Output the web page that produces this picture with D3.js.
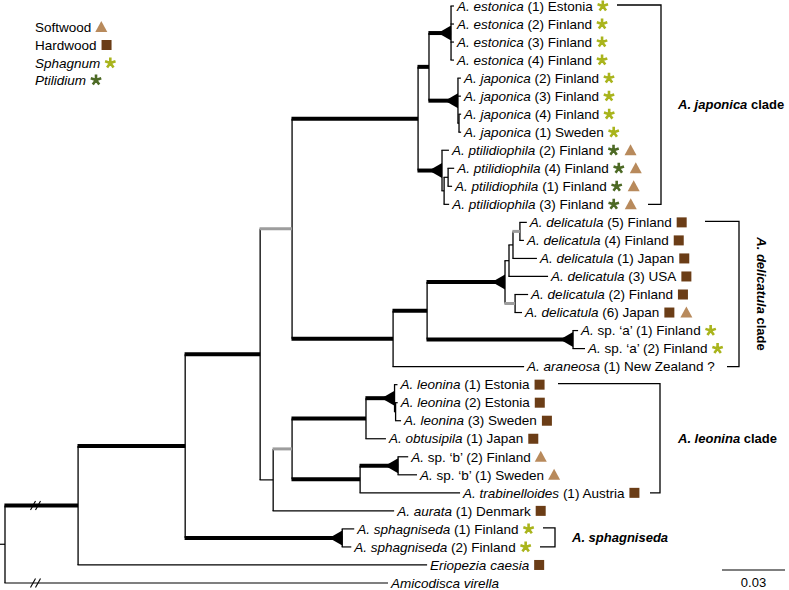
<!DOCTYPE html>
<html><head><meta charset="utf-8">
<script src="https://cdn.jsdelivr.net/npm/d3@7"></script>
<style>
body{margin:0;background:#fff}
svg{display:block}
text{font-family:"Liberation Sans",Arial,Helvetica,sans-serif;white-space:pre}
</style>
</head><body>
<svg id="chart" width="789" height="590"></svg>
<script>
// ---------------- DATA ----------------
// Tree topology with branch lengths (substitutions/site). Leaves are numbered 1..33 top to bottom.
// Internal labels: t = thick (supported), T = thick + collapsed-clade triangle, g = grey (weakly supported)
const cladeEstonica = "(1:0.0014,2:0.0014,3:0.0014,4:0.0014)T";
const cladeJaponica = "(5:0.0014,6:0.0014,(7:0.0010,8:0.0010):0.0005)T";
const cladePtil = "(9:0.0033,((10:0.0029,11:0.0019):0.0019,12:0.0024):0.0010)T";
const cladeJC = `((${cladeEstonica}:0.0105,${cladeJaponica}:0.0138)t:0.0052,${cladePtil}:0.0114)t`;
const cladeDelicatula = "((((13:0.0033,14:0.0019)g:0.0033,15:0.0114):0.0019,16:0.0186):0.0019,(17:0.0062,18:0.0033)g:0.0048)T";
const cladeSpA = "(19:0.0024,20:0.0057)T";
const cladeDG = `((${cladeDelicatula}:0.0371,${cladeSpA}:0.0695)t:0.0162,21:0.0624)t`;
const cladeLeonina = "(22:0.0014,(23:0.0010,24:0.0026):0.0005)T";
const cladeSpB = "(26:0.0048,27:0.0090)T";
const cladeF = `((${cladeLeonina}:0.0136,25:0.0095)t:0.0352,(${cladeSpB}:0.0181,28:0.0476)t:0.0324)g`;
const cladeSphag = "(30:0.0057,31:0.0043)T";
const newick = `(((((${cladeJC}:0.0600,${cladeDG}:0.0481)g:0.0152,(${cladeF}:0.0090,29:0.0576):0.0062)t:0.0357,${cladeSphag}:0.0748)t:0.0510,32:0.1662)t:0.0348,33:0.1824);`;

const leafTaxa = [
  "A. estonica","A. estonica","A. estonica","A. estonica",
  "A. japonica","A. japonica","A. japonica","A. japonica",
  "A. ptilidiophila","A. ptilidiophila","A. ptilidiophila","A. ptilidiophila",
  "A. delicatula","A. delicatula","A. delicatula","A. delicatula","A. delicatula","A. delicatula",
  "A.","A.","A. araneosa",
  "A. leonina","A. leonina","A. leonina","A. obtusipila",
  "A.","A.","A. trabinelloides","A. aurata",
  "A. sphagniseda","A. sphagniseda","Eriopezia caesia","Amicodisca virella"
];
const leafDetails = [
  " (1) Estonia"," (2) Finland"," (3) Finland"," (4) Finland",
  " (2) Finland"," (3) Finland"," (4) Finland"," (1) Sweden",
  " (2) Finland"," (4) Finland"," (1) Finland"," (3) Finland",
  " (5) Finland"," (4) Finland"," (1) Japan"," (3) USA"," (2) Finland"," (6) Japan",
  " sp. \u2018a\u2019 (1) Finland"," sp. \u2018a\u2019 (2) Finland"," (1) New Zealand ?",
  " (1) Estonia"," (2) Estonia"," (3) Sweden"," (1) Japan",
  " sp. \u2018b\u2019 (2) Finland"," sp. \u2018b\u2019 (1) Sweden"," (1) Austria"," (1) Denmark",
  " (1) Finland"," (2) Finland","",""
];
// S = Softwood, H = Hardwood, Sp = Sphagnum, P = Ptilidium
const leafHosts = [
  ["Sp"],["Sp"],["Sp"],["Sp"],
  ["Sp"],["Sp"],["Sp"],["Sp"],
  ["P","S"],["P","S"],["P","S"],["P","S"],
  ["H"],["H"],["H"],["H"],["H"],["H","S"],
  ["Sp"],["Sp"],[],
  ["H"],["H"],["H"],["H"],
  ["S"],["S"],["H"],["H"],
  ["Sp"],["Sp"],["H"],[]
];
const legendKeys = ["S","H","Sp","P"];
const legendLabels = ["Softwood","Hardwood","Sphagnum","Ptilidium"];
const legendItalic = [false,false,true,true];
const cladeNames = ["A. japonica","A. delicatula","A. leonina","A. sphagniseda"];
const cladeSuffix = [" clade"," clade"," clade",""];
const cladeFirstLeaf = [0,12,21,29];
const cladeLastLeaf = [11,20,27,30];
const scaleBarValue = 0.03;

const hostColors = {S:"#b88a5c", H:"#6b3d16", Sp:"#a9b41c", P:"#4d6a25"};

// ---------------- PARSE ----------------
function parseNewick(s){
  let i=0;
  function node(){
    const n={children:[]};
    if(s[i]==='('){
      i++; n.children.push(node());
      while(s[i]===','){i++; n.children.push(node());}
      i++;
    }
    let name=''; while(i<s.length && !':,();'.includes(s[i])) name+=s[i++];
    n.name=name;
    n.length=0;
    if(s[i]===':'){i++; let l=''; while(i<s.length && !',();'.includes(s[i])) l+=s[i++]; n.length=+l;}
    if(!n.children.length) delete n.children;
    return n;
  }
  return node();
}

const root = d3.hierarchy(parseNewick(newick));
root.eachBefore(d=>{ d.dist = d.parent ? d.parent.dist + d.data.length : 0; });

const xScale = d3.scaleLinear().domain([0, scaleBarValue]).range([5, 68]);
const yScale = d3.scaleLinear().domain([0, 32]).range([6, 583]);

root.leaves().forEach(l=>{ l.idx = +l.data.name - 1; l.py = yScale(l.idx); });
root.eachAfter(d=>{ if(d.children){ d.py=(d.children[0].py + d.children[d.children.length-1].py)/2; } });
root.each(d=>{ d.px = xScale(d.dist); });

const svg = d3.select("#chart");
const g = svg.append("g");

// root stub
g.append("line").attr("x1",0).attr("x2",root.px).attr("y1",root.py).attr("y2",root.py)
  .attr("stroke","#000").attr("stroke-width",1.2);

// verticals
root.descendants().filter(d=>d.children).forEach(d=>{
  g.append("line").attr("x1",d.px).attr("x2",d.px)
   .attr("y1",d.children[0].py).attr("y2",d.children[d.children.length-1].py)
   .attr("stroke","#000").attr("stroke-width",1.3);
});

// horizontals
root.descendants().filter(d=>d.parent).forEach(d=>{
  const tag = d.children ? d.data.name : "";
  let color="#000", w=1.2;
  if(tag==="t"||tag==="T"){ w=4; }
  else if(tag==="g"){ color="#9d9d9d"; w=3; }
  g.append("line").attr("x1",d.parent.px-0.6).attr("x2",d.px).attr("y1",d.py).attr("y2",d.py)
   .attr("stroke",color).attr("stroke-width",w);
});

// triangles
root.descendants().filter(d=>d.children && d.data.name==="T").forEach(d=>{
  g.append("path").attr("d",`M${d.px},${d.py-7.5}L${d.px},${d.py+7.5}L${d.px-13},${d.py}Z`).attr("fill","#000");
});

// break marks on the two root branches
const rootBranchYs = root.children.map(c=>c.py);
rootBranchYs.forEach(y=>{
  [33,38].forEach(x=>{
    g.append("line").attr("x1",x-2.5).attr("y1",y+4.5).attr("x2",x+2.5).attr("y2",y-4.5)
     .attr("stroke","#000").attr("stroke-width",1.1);
  });
});

function drawMarker(sel, key, x, y){
  const c = hostColors[key];
  if(key==="S"){
    sel.append("path").attr("d",`M${x-6},${y+5}L${x+6},${y+5}L${x},${y-6}Z`).attr("fill",c);
  } else if(key==="H"){
    sel.append("rect").attr("x",x-5).attr("y",y-5).attr("width",10).attr("height",10).attr("fill",c);
  } else {
    let p="";
    for(let k=0;k<5;k++){
      const a = -Math.PI/2 + k*2*Math.PI/5;
      p += `M${x},${y}L${x+5.5*Math.cos(a)},${y+5.5*Math.sin(a)}`;
    }
    sel.append("path").attr("d",p).attr("stroke",c).attr("stroke-width",2.6).attr("stroke-linecap","butt").attr("fill","none");
  }
}

// leaf labels
const FS = 13.5;
root.leaves().forEach(l=>{
  const i=l.idx;
  const t = g.append("text").attr("x",l.px+3).attr("y",l.py).attr("dy","0.35em").attr("font-size",FS).attr("fill","#000");
  t.append("tspan").attr("font-style","italic").text(leafTaxa[i]);
  if(leafDetails[i]) t.append("tspan").text(leafDetails[i]);
  const end = l.px + 3 + t.node().getComputedTextLength();
  leafHosts[i].forEach((k,j)=>{ drawMarker(g,k,end+10+j*17,l.py); });
});

// legend
legendKeys.forEach((k,i)=>{
  const y = [27,45,63,80][i];
  const t = g.append("text").attr("x",35).attr("y",y).attr("dy","0.35em").attr("font-size",FS)
    .attr("font-style",legendItalic[i]?"italic":"normal").text(legendLabels[i]);
  const end = 35 + t.node().getComputedTextLength();
  drawMarker(g,k,end+10,y);
});

// clade brackets
const bracketGeom = [
  {x0:617, xv:661, x1:648, lx:678, rot:false},
  {x0:705, xv:739, x1:727, lx:762, rot:true},
  {x0:558, xv:660, x1:650, lx:678, rot:false},
  {x0:543, xv:555, x1:540, lx:572, rot:false}
];
cladeNames.forEach((n,i)=>{
  const b = bracketGeom[i];
  const y0 = yScale(cladeFirstLeaf[i]) - 1, y1 = yScale(cladeLastLeaf[i]);
  g.append("path").attr("d",`M${b.x0},${y0}H${b.xv}V${y1}H${b.x1}`).attr("fill","none").attr("stroke","#000").attr("stroke-width",1.3);
  const ym = (y0+y1)/2;
  let t;
  if(b.rot){
    t = g.append("text").attr("transform",`translate(${b.lx},${ym}) rotate(90)`).attr("text-anchor","middle").attr("dy","0.35em");
  } else {
    t = g.append("text").attr("x",b.lx).attr("y",ym).attr("dy","0.35em");
  }
  t.attr("font-size",13).attr("font-weight","bold");
  t.append("tspan").attr("font-style","italic").text(n);
  if(cladeSuffix[i]) t.append("tspan").text(cladeSuffix[i]);
});

// scale bar
const sbX = 722, sbY = 570;
const sbW = xScale(scaleBarValue) - xScale(0);
g.append("line").attr("x1",sbX).attr("x2",sbX+sbW).attr("y1",sbY).attr("y2",sbY).attr("stroke","#000").attr("stroke-width",1.2);
g.append("text").attr("x",sbX+sbW/2).attr("y",sbY+12).attr("dy","0.35em").attr("text-anchor","middle").attr("font-size",13).text(String(scaleBarValue));
</script>
</body></html>
